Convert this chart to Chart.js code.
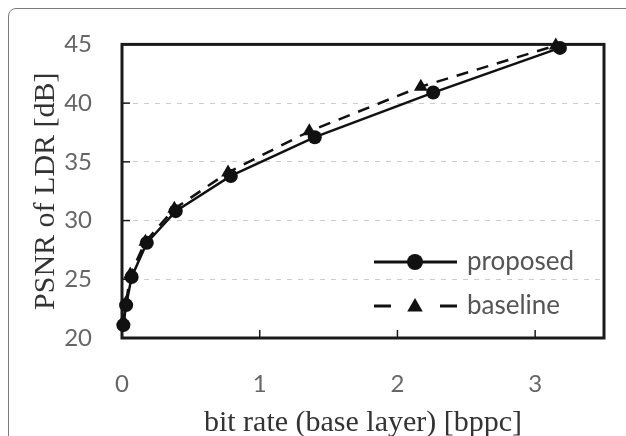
<!DOCTYPE html>
<html>
<head>
<meta charset="utf-8">
<script src="https://cdn.jsdelivr.net/npm/chart.js"></script>
<style>
  html, body { margin: 0; padding: 0; background: #fff; }
  #wrap { position: relative; width: 626px; height: 436px; overflow: hidden; }
  #frame {
    position: absolute; left: 8px; top: 8px; width: 660px; height: 480px;
    border: 1.5px solid #7a7a7a; border-radius: 8px; box-sizing: border-box;
  }
  #grafik { position: absolute; left: 0; top: 0; }
</style>
</head>
<body>
<div id="wrap">
  <div id="frame"></div>
  <canvas id="grafik" width="626" height="436"></canvas>
</div>
<script>
const rateProposed = [0.01, 0.03, 0.07, 0.18, 0.39, 0.79, 1.40, 2.26, 3.18]
const psnrProposed = [21.1, 22.8, 25.2, 28.1, 30.8, 33.8, 37.1, 40.9, 44.7]

const rateBaseline = [0.01, 0.03, 0.06, 0.17, 0.38, 0.77, 1.36, 2.17, 3.15]
const psnrBaseline = [21.4, 23.0, 25.4, 28.2, 31.0, 34.1, 37.6, 41.4, 44.9]

const xTicks = [0, 1, 2, 3]
const yTicks = [20, 25, 30, 35, 40, 45]

const seriesNames = ['proposed', 'baseline']

function toPoints(xs, ys) {
    return xs.map((x, i) => ({ x, y: ys[i] }))
}

function triangle(ctx, x, y, r) {
    ctx.beginPath()
    for (let k = 0; k < 3; k++) {
        const a = k * 2 * Math.PI / 3
        const px = x + Math.sin(a) * r
        const py = y - Math.cos(a) * r
        if (k === 0) ctx.moveTo(px, py)
        else ctx.lineTo(px, py)
    }
    ctx.closePath()
    ctx.fill()
}

// frame box + inner tick marks
const frameBox = {
    id: 'frameBox',
    beforeDatasetsDraw(chart) {
        const { ctx, chartArea: a, scales } = chart
        ctx.save()
        ctx.strokeStyle = '#1a1a1a'
        ctx.lineWidth = 1.5
        yTicks.slice(1, -1).forEach(v => {
            const py = scales.y.getPixelForValue(v)
            ctx.beginPath()
            ctx.moveTo(a.left, py)
            ctx.lineTo(a.left + 8, py)
            ctx.stroke()
        })
        xTicks.slice(1).forEach(v => {
            const px = scales.x.getPixelForValue(v)
            ctx.beginPath()
            ctx.moveTo(px, a.bottom)
            ctx.lineTo(px, a.bottom - 8)
            ctx.stroke()
        })
        ctx.lineWidth = 3
        ctx.strokeRect(a.left, a.top, a.right - a.left, a.bottom - a.top)
        ctx.restore()
    }
}

// legend drawn inside plot, bottom right
const innerLegend = {
    id: 'innerLegend',
    afterDraw(chart) {
        const { ctx, chartArea: a } = chart
        const x0 = a.right - 230, x1 = a.right - 147, xm = a.right - 189, xt = a.right - 137
        const y1 = a.bottom - 76, y2 = a.bottom - 32
        ctx.save()
        ctx.strokeStyle = '#111'
        ctx.fillStyle = '#111'
        ctx.lineWidth = 3
        ctx.beginPath()
        ctx.moveTo(x0, y1)
        ctx.lineTo(x1, y1)
        ctx.stroke()
        ctx.beginPath()
        ctx.arc(xm, y1, 8, 0, Math.PI * 2)
        ctx.fill()

        ctx.beginPath()
        ctx.moveTo(x0, y2)
        ctx.lineTo(x0 + 17, y2)
        ctx.moveTo(x1 - 17, y2)
        ctx.lineTo(x1, y2)
        ctx.stroke()
        triangle(ctx, xm, y2 + 1, 9)

        ctx.fillStyle = '#555'
        ctx.font = '26px Lato'
        ctx.textBaseline = 'middle'
        ctx.fillText(seriesNames[0], xt, y1)
        ctx.fillText(seriesNames[1], xt, y2)
        ctx.restore()
    }
}

new Chart(document.getElementById('grafik'), {
    type: 'scatter',
    data: {
        datasets: [
            {
                label: seriesNames[1],
                data: toPoints(rateBaseline, psnrBaseline),
                showLine: true,
                borderColor: '#111',
                backgroundColor: '#111',
                borderWidth: 2.5,
                borderDash: [12, 9],
                pointStyle: 'triangle',
                pointRadius: 8,
                pointBorderWidth: 0,
                clip: false
            },
            {
                label: seriesNames[0],
                data: toPoints(rateProposed, psnrProposed),
                showLine: true,
                borderColor: '#111',
                backgroundColor: '#111',
                borderWidth: 2.5,
                pointStyle: 'circle',
                pointRadius: 7,
                pointBorderWidth: 0,
                clip: false
            }
        ]
    },
    options: {
        responsive: false,
        animation: false,
        layout: { padding: { top: 38, right: 22, left: 0, bottom: 0 } },
        plugins: { legend: { display: false }, tooltip: { enabled: false } },
        scales: {
            x: {
                type: 'linear',
                min: 0,
                max: 3.5,
                afterFit: s => { s.height = 98 },
                grid: { display: false, drawTicks: false },
                border: { display: false },
                ticks: {
                    stepSize: 1,
                    includeBounds: false,
                    padding: 32,
                    color: '#666',
                    font: { family: 'Lato', size: 24 }
                },
                title: {
                    display: true,
                    text: 'bit rate (base layer) [bppc]',
                    color: '#333',
                    font: { family: 'Liberation Serif', size: 30, lineHeight: 1 },
                    padding: { top: 0, bottom: -2 }
                }
            },
            y: {
                min: 20,
                max: 45,
                afterFit: s => { s.width = 122 },
                grid: { color: '#cccccc', lineWidth: 1, drawTicks: false },
                border: { display: false, dash: [5, 6] },
                ticks: {
                    stepSize: 5,
                    padding: 30,
                    color: '#666',
                    font: { family: 'Lato', size: 24 }
                },
                title: {
                    display: true,
                    text: 'PSNR of LDR [dB]',
                    color: '#333',
                    font: { family: 'Liberation Serif', size: 30, lineHeight: 1.2 },
                    padding: { top: 28, bottom: 0 }
                }
            }
        }
    },
    plugins: [frameBox, innerLegend]
})
</script>
</body>
</html>
